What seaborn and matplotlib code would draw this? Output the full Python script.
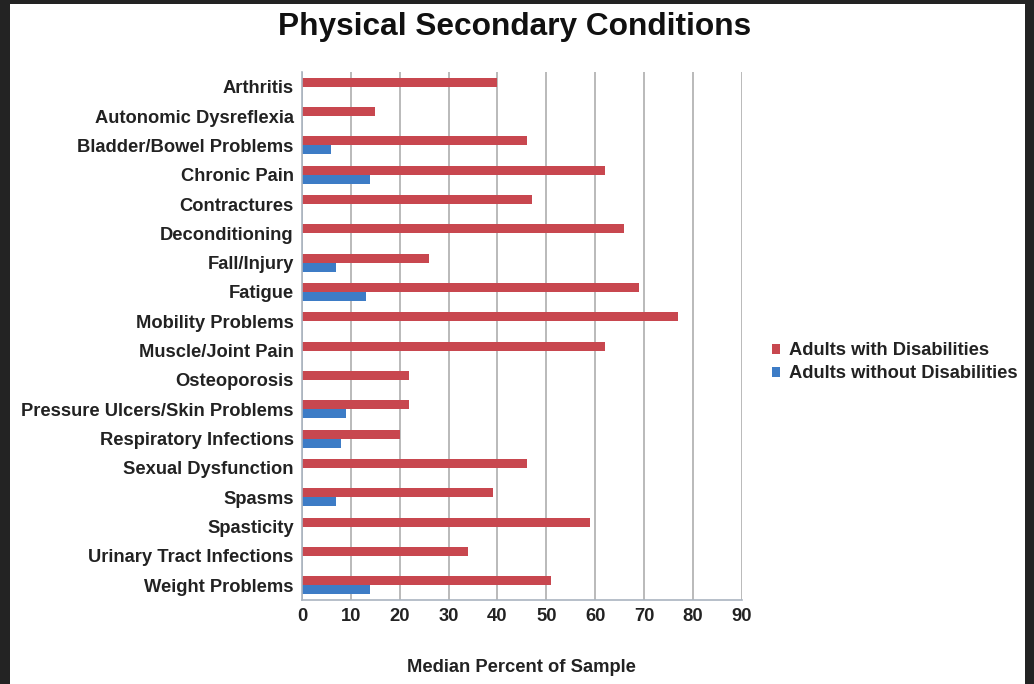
import numpy as np
import pandas as pd
import matplotlib
matplotlib.use("Agg")
import matplotlib.pyplot as plt
from matplotlib.patches import Rectangle
import seaborn as sns

# =============================================================================
# Data
# =============================================================================

conditions = ['Arthritis', 'Autonomic Dysreflexia', 'Bladder/Bowel Problems', 'Chronic Pain',
              'Contractures', 'Deconditioning', 'Fall/Injury', 'Fatigue', 'Mobility Problems',
              'Muscle/Joint Pain', 'Osteoporosis', 'Pressure Ulcers/Skin Problems',
              'Respiratory Infections', 'Sexual Dysfunction', 'Spasms', 'Spasticity',
              'Urinary Tract Infections', 'Weight Problems']
with_disab = [40, 15, 46, 62, 47, 66, 26, 69, 77, 62, 22, 22, 20, 46, 39, 59, 34, 51]
without_disab = [np.nan, np.nan, 6, 14, np.nan, np.nan, 7, 13, np.nan, np.nan, np.nan,
                 9, 8, np.nan, 7, np.nan, np.nan, 14]
groups = ['Adults with Disabilities', 'Adults without Disabilities']
x_ticks = [0, 10, 20, 30, 40, 50, 60, 70, 80, 90]

df = pd.DataFrame({
    'condition': conditions * 2,
    'value': with_disab + without_disab,
    'group': [groups[0]] * len(conditions) + [groups[1]] * len(conditions),
})

# =============================================================================
# Plot
# =============================================================================

sns.set_style('white')
plt.rcParams['font.family'] = ['Liberation Sans', 'DejaVu Sans']
plt.rcParams['font.weight'] = 'bold'
fs = 13.2

fig = plt.figure(figsize=(10.34, 6.84), dpi=100, facecolor='#232323')
fig.patches.append(Rectangle((10 / 1034, 0), 1015 / 1034, 680 / 684,
                             transform=fig.transFigure, facecolor='white',
                             edgecolor='none', zorder=-10))
ax = fig.add_axes([302 / 1034, 84 / 684, 439.7 / 1034, 528 / 684])
ax.set_zorder(5)

sns.barplot(data=df, y='condition', x='value', hue='group', order=conditions,
            hue_order=groups, palette=['#c8474f', '#3d7cc6'], width=0.62,
            orient='h', ax=ax, saturation=1, linewidth=0)

ax.set_xlim(0, 90)
ax.set_ylim(len(conditions) - 0.5, -0.5)
ax.set_xticks(x_ticks)
ax.set_xticklabels([str(t) for t in x_ticks], fontsize=fs, fontweight='bold', color='#222222')
ax.set_yticklabels(conditions, fontsize=fs, fontweight='bold', color='#222222')
ax.tick_params(axis='y', which='major', length=0, pad=6)
ax.set_yticks(np.arange(-0.5, len(conditions), 1), minor=True)
ax.tick_params(axis='y', which='minor', length=3, color='#9fb3c8', direction='out')
ax.tick_params(axis='x', which='major', length=3, color='#aaaaaa', direction='out', pad=3)

ax.grid(axis='x', color='#b4b4b4', linewidth=1.3)
ax.grid(axis='y', visible=False)
ax.set_axisbelow(True)
for side in ['top', 'right']:
    ax.spines[side].set_visible(False)
for side in ['left', 'bottom']:
    ax.spines[side].set_color('#aab4c0')
    ax.spines[side].set_linewidth(1.2)

ax.set_ylabel('')
ax.set_xlabel('Median Percent of Sample', fontsize=fs, fontweight='bold',
              color='#222222', labelpad=24)

handles, labels = ax.get_legend_handles_labels()
ax.legend(handles, labels, loc='center left', bbox_to_anchor=(1.031, 0.45),
          frameon=False, fontsize=fs, handlelength=0.42, handleheight=0.42,
          handletextpad=0.5, labelspacing=0.32, labelcolor='#222222')

fig.text(515 / 1034, 1 - 27 / 684, 'Physical Secondary Conditions', ha='center',
         va='center', fontsize=22.8, fontweight='bold', color='#111111')

fig.savefig('out.png', dpi=100, facecolor=fig.get_facecolor())
